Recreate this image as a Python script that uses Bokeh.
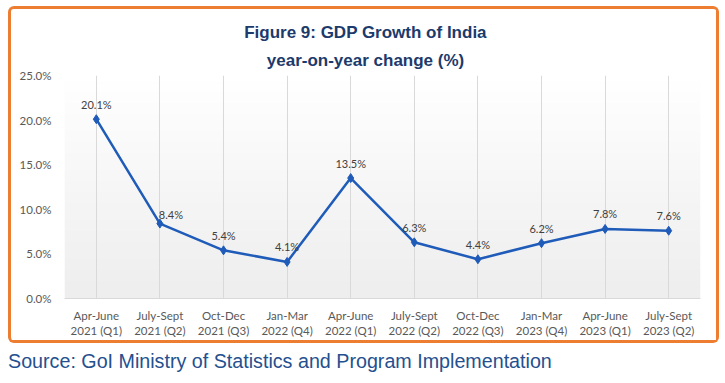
import numpy as np
from bokeh.plotting import figure
from bokeh.models import ColumnDataSource, FixedTicker, Title, Div
from bokeh.layouts import column
from bokeh.core.properties import value
from bokeh.embed import file_html
from bokeh.resources import INLINE

# ---- data ----
categories = ["Apr-June\n2021 (Q1)", "July-Sept\n2021 (Q2)", "Oct-Dec\n2021 (Q3)",
              "Jan-Mar\n2022 (Q4)", "Apr-June\n2022 (Q1)", "July-Sept\n2022 (Q2)",
              "Oct-Dec\n2022 (Q3)", "Jan-Mar\n2023 (Q4)", "Apr-June\n2023 (Q1)",
              "July-Sept\n2023 (Q2)"]
growth = [20.1, 8.4, 5.4, 4.1, 13.5, 6.3, 4.4, 6.2, 7.8, 7.6]
y_ticks = [0, 5, 10, 15, 20, 25]
title_lines = ["Figure 9: GDP Growth of India", "year-on-year change (%)"]
source_text = "Source: GoI Ministry of Statistics and Program Implementation"

# label nudges (style only)
label_dx = [0, 11, 0, 0, 0, 0, 0, 0, 0, 0]
label_dy = [-15, -9, -15, -15, -15, -15, -15, -15, -15, -15]

idx = list(range(len(categories)))
src = ColumnDataSource(dict(x=idx, y=growth,
                            lbl=[f"{v:.1f}%" for v in growth],
                            dx=label_dx, dy=label_dy))

LABEL_FONT = "Lato"

p = figure(width=705, height=331, output_backend="svg", toolbar_location=None,
           x_range=(-0.5, len(categories) - 0.5), y_range=(0, 25),
           min_border_left=53, min_border_right=16, min_border_bottom=41,
           min_border_top=66, tools="")
p.styles = {"box-shadow": "0 0 0 3px #ED7D31", "border-radius": "3px",
            "margin-left": "11px", "margin-top": "9px"}

p.title = None
title_style = dict(align="center", text_font_size="17px", text_font="Liberation Sans",
                   text_font_style="bold", text_color="#1C3A6B", padding=(0, 34, 0, 0))
# the line closest to the plot is added first
p.add_layout(Title(text=title_lines[1], standoff=12, **title_style), "above")
p.add_layout(Title(text=title_lines[0], standoff=1, **title_style), "above")

# gradient background of plot area
n = 40
shades = np.linspace(0xEE, 0xFF, n).astype(np.uint32)
img = np.zeros((n, 1), dtype=np.uint32)
img[:, 0] = (0xFF << 24) | (shades << 16) | (shades << 8) | shades
p.image_rgba(image=[img], x=-0.5, y=0, dw=len(categories), dh=25, level="image")

p.outline_line_color = None
p.background_fill_color = "white"

# grids
p.ygrid.grid_line_color = None
p.xgrid.grid_line_color = "#D9D9D9"
p.xgrid.grid_line_width = 1

# axes
p.xaxis.ticker = FixedTicker(ticks=idx)
p.xaxis.major_label_overrides = {i: c for i, c in enumerate(categories)}
p.xaxis.axis_line_color = "#D9D9D9"
p.xaxis.major_tick_line_color = None
p.xaxis.minor_tick_line_color = None
p.xaxis.major_label_standoff = 4
p.xaxis.major_label_text_font = LABEL_FONT
p.xaxis.major_label_text_font_size = "11.5px"
p.xaxis.major_label_text_color = "#595959"

p.yaxis.ticker = FixedTicker(ticks=y_ticks)
p.yaxis.major_label_overrides = {t: f"{t:.1f}%" for t in y_ticks}
p.yaxis.axis_line_color = None
p.yaxis.major_tick_line_color = None
p.yaxis.minor_tick_line_color = None
p.yaxis.major_label_standoff = 7
p.yaxis.major_label_text_font = LABEL_FONT
p.yaxis.major_label_text_font_size = "11.5px"
p.yaxis.major_label_text_color = "#595959"

# series
p.line("x", "y", source=src, line_color="#1F5BB8", line_width=2.5)
p.scatter("x", "y", source=src, marker="diamond", size=9, fill_color="#1F5BB8",
          line_color="#1F5BB8")
p.text("x", "y", text="lbl", source=src, x_offset="dx", y_offset="dy",
       text_align="center", text_baseline="middle", text_font=value(LABEL_FONT),
       text_font_size="11px", text_color="#404040")

source_div = Div(text=source_text,
                 styles={"font-family": "Liberation Sans, Arial, sans-serif",
                         "font-size": "19.7px", "color": "#24508F",
                         "margin-top": "7px", "margin-left": "8px",
                         "white-space": "nowrap"})

layout = column(p, source_div)
open("out.html", "w").write(file_html(layout, INLINE))
